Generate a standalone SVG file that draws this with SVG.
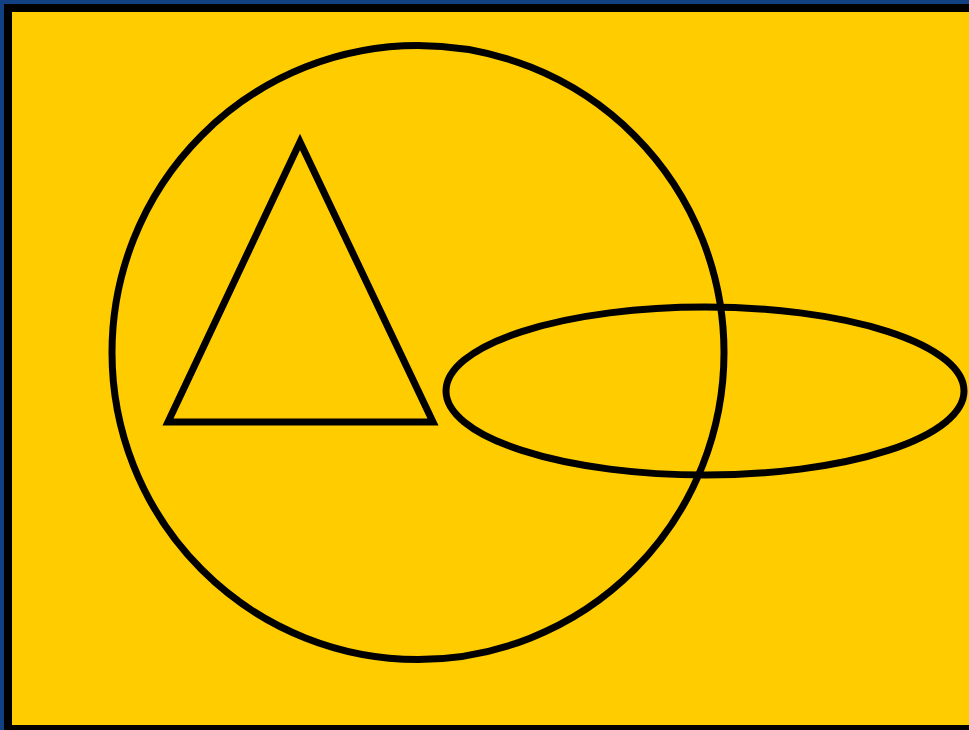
<svg xmlns="http://www.w3.org/2000/svg" width="969" height="730" viewBox="0 0 969 730">
<style>
.s{fill:none;stroke:#000;stroke-width:7}
</style>
<rect x="0" y="0" width="969" height="730" fill="#114183"/>
<rect x="8" y="8" width="975" height="721" fill="#ffcc00" stroke="#000" stroke-width="8"/>
<g id="circle"><ellipse class="s" cx="418" cy="352.5" rx="306" ry="307"/></g>
<g id="triangle"><polygon class="s" points="300,142 168,422 433,422" stroke-width="8"/></g>
<g id="ellipse"><ellipse class="s" cx="705" cy="391" rx="259" ry="84"/></g>
</svg>
